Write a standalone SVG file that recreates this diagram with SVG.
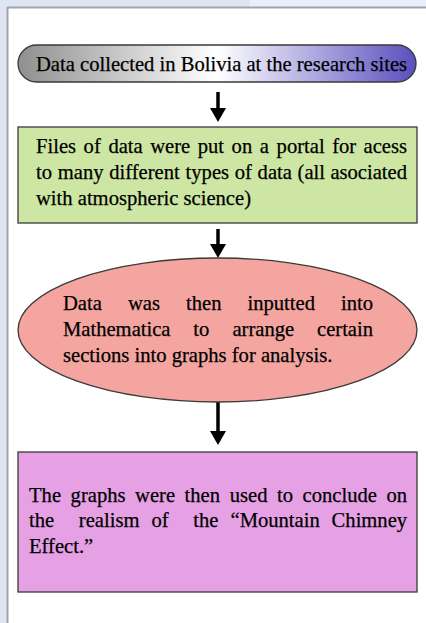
<svg xmlns="http://www.w3.org/2000/svg" width="426" height="623" viewBox="0 0 426 623">
  <defs>
    <linearGradient id="pillGrad" x1="0" y1="0" x2="1" y2="0">
      <stop offset="0" stop-color="#8f8f8f"/>
      <stop offset="0.5" stop-color="#ffffff"/>
      <stop offset="1" stop-color="#5a4fbf"/>
    </linearGradient>
    <marker id="head" markerUnits="userSpaceOnUse" markerWidth="14" markerHeight="16" refX="0" refY="8" orient="auto" viewBox="0 0 14 16">
      <path d="M0,0 L14,8 L0,16 z" fill="#000"/>
    </marker>
    <style>
      .t { font-family: "Liberation Serif", "Times New Roman", Times, serif; font-size: 20.6px; fill: #000; stroke: #000; stroke-width: 0.25; }
      .box { stroke: #3a3a3a; stroke-width: 1.3; }
      .conn { stroke: #000; stroke-width: 3.5; fill: none; marker-end: url(#head); }
    </style>
  </defs>

  <!-- background -->
  <rect x="0" y="0" width="426" height="623" fill="#dfe5f3"/>
  <rect x="250" y="0" width="176" height="7" fill="#e9eef8"/>
  <rect x="7" y="7" width="419" height="616" fill="#ffffff"/>
  <line x1="7.5" y1="7" x2="7.5" y2="623" stroke="#9ea3ad" stroke-width="2"/>
  <line x1="7" y1="7.5" x2="426" y2="7.5" stroke="#9ea3ad" stroke-width="2"/>

  <g id="connectors">
    <line class="conn" x1="218" y1="92" x2="218" y2="108"/>
    <line class="conn" x1="218" y1="229" x2="218" y2="244"/>
    <line class="conn" x1="218" y1="402" x2="218" y2="431"/>
  </g>

  <g id="node1">
    <rect class="box" x="18" y="45" width="398" height="37" rx="18.5" fill="url(#pillGrad)"/>
    <text class="t" x="36" y="71">Data collected in Bolivia at the research sites</text>
  </g>

  <g id="node2">
    <rect class="box" x="18" y="127" width="399" height="96" fill="#cde6a3"/>
    <text class="t" y="153"><tspan x="36">Files</tspan><tspan x="83.6">of</tspan><tspan x="108.4">data</tspan><tspan x="150.2">were</tspan><tspan x="197.7">put</tspan><tspan x="231.6">on</tspan><tspan x="259.8">a</tspan><tspan x="276.6">portal</tspan><tspan x="332.2">for</tspan><tspan x="363.6">acess</tspan></text>
    <text class="t" y="179"><tspan x="36">to</tspan><tspan x="57.8">many</tspan><tspan x="109.2">different</tspan><tspan x="185.6">types</tspan><tspan x="234.7">of</tspan><tspan x="257.6">data</tspan><tspan x="297.6">(all</tspan><tspan x="330.4">asociated</tspan></text>
    <text class="t" x="36" y="205">with atmospheric science)</text>
  </g>

  <g id="node3">
    <ellipse class="box" cx="217.5" cy="330" rx="199.5" ry="72" fill="#f4a5a0"/>
    <text class="t" y="310"><tspan x="63">Data</tspan><tspan x="128">was</tspan><tspan x="186.1">then</tspan><tspan x="247.5">inputted</tspan><tspan x="341">into</tspan></text>
    <text class="t" y="336"><tspan x="63">Mathematica</tspan><tspan x="193.3">to</tspan><tspan x="232.4">arrange</tspan><tspan x="317">certain</tspan></text>
    <text class="t" x="63" y="362">sections into graphs for analysis.</text>
  </g>

  <g id="node4">
    <rect class="box" x="18" y="452" width="399" height="140" fill="#e6a1e5"/>
    <text class="t" y="502"><tspan x="29">The</tspan><tspan x="70.6">graphs</tspan><tspan x="135.1">were</tspan><tspan x="184.6">then</tspan><tspan x="229.7">used</tspan><tspan x="277">to</tspan><tspan x="302.6">conclude</tspan><tspan x="386.4">on</tspan></text>
    <text class="t" y="527"><tspan x="29">the</tspan><tspan x="78.8">realism</tspan><tspan x="151.5">of</tspan><tspan x="193.3">the</tspan><tspan x="230.5">“Mountain</tspan><tspan x="331.6">Chimney</tspan></text>
    <text class="t" x="29" y="553">Effect.”</text>
  </g>
</svg>
